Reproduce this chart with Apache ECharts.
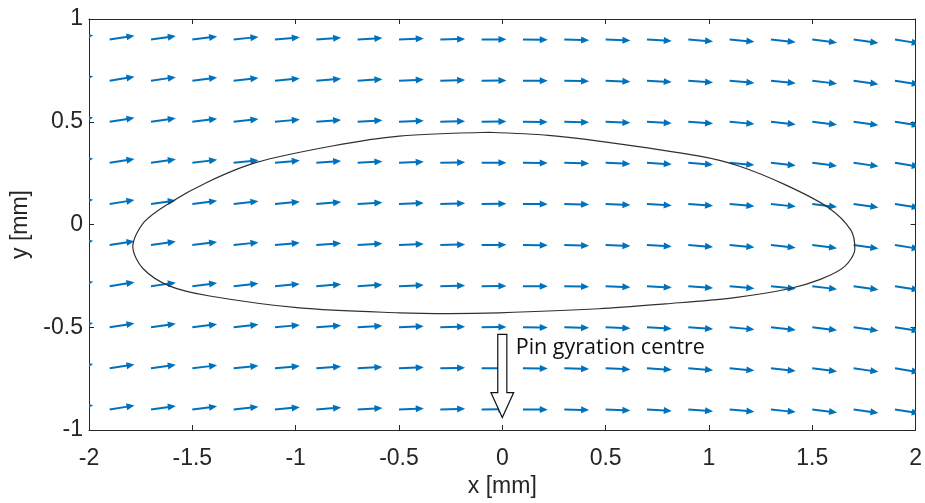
<!DOCTYPE html>
<html><head><meta charset="utf-8">
<script src="https://cdn.jsdelivr.net/npm/echarts@6/dist/echarts.min.js"></script>
<style>html,body{margin:0;padding:0;background:#fff}#c{width:925px;height:503px}</style>
</head><body><div id="c"></div>
<script>
// Quiver grid (arrow base points)
const colX = [-2.1,-1.9,-1.7,-1.5,-1.3,-1.1,-0.9,-0.7,-0.5,-0.3,-0.1,0.1,0.3,0.5,0.7,0.9,1.1,1.3,1.5,1.7,1.9];
const rowY = [-0.9,-0.7,-0.5,-0.3,-0.1,0.1,0.3,0.5,0.7,0.9];
// arrow components (estimated): horizontal length per row, vertical component per column
const rowDX = [0.12,0.12,0.12,0.12,0.12,0.12,0.12,0.12,0.12,0.12];
const colDY = [0.021,0.019,0.017,0.015,0.013,0.011,0.009,0.007,0.005,0.003,0.001,-0.001,-0.003,-0.005,-0.007,-0.009,-0.011,-0.013,-0.015,-0.017,-0.019];
// closed contour
const contourX = [-0.065,0.224,0.466,0.948,1.141,1.368,1.575,1.686,1.706,1.657,1.542,1.382,1.107,0.789,0.466,-0.017,-0.258,-0.499,-0.982,-1.416,-1.609,-1.739,-1.788,-1.735,-1.615,-1.425,-1.190,-0.823,-0.499,-0.065];
const contourY = [0.449,0.434,0.406,0.334,0.286,0.194,0.084,-0.026,-0.118,-0.204,-0.266,-0.314,-0.358,-0.386,-0.410,-0.430,-0.434,-0.430,-0.406,-0.348,-0.300,-0.214,-0.108,0.010,0.102,0.207,0.302,0.382,0.430,0.449];
// annotation
const annotText = 'Pin gyration centre';
const annotArrow = [0, -0.535, -0.818, -0.939, 0.022, 0.055]; // x, shaftTop, headBase, tip, shaftHalfW, headHalfW
const annotTextPos = [0.065, -0.598];
const xTickLabels = ['-2','-1.5','-1','-0.5','0','0.5','1','1.5','2'];
const yTickLabels = ['-1','-0.5','0','0.5','1'];

const quiverData = [];
rowY.forEach((y, i) => colX.forEach((x, j) => quiverData.push([x, y, rowDX[i], colDY[j]])));
const contourData = contourX.map((x, i) => [x, contourY[i]]);

const AX = '#262626';
const FONT = 'Liberation Sans';
const FS = 23;
const chart = echarts.init(document.getElementById('c'));
const axisCommon = {
  interval: 0.5,
  axisLine: {show: true, onZero: false, lineStyle: {color: AX, width: 1}},
  axisTick: {show: true, inside: true, length: 5, lineStyle: {color: AX}},
  splitLine: {show: false}
};
chart.setOption({
  animation: false,
  grid: {left: 89, right: 7, top: 19, bottom: 67, containLabel: false},
  xAxis: [
    Object.assign({}, axisCommon, {type: 'value', min: -2, max: 2, position: 'bottom',
      name: 'x [mm]', nameLocation: 'middle', nameGap: 45,
      nameTextStyle: {fontFamily: FONT, fontSize: FS, color: AX},
      axisLabel: {fontFamily: FONT, fontSize: FS, color: AX, margin: 17,
        formatter: v => xTickLabels[Math.round((v + 2) / 0.5)]}}),
    Object.assign({}, axisCommon, {type: 'value', min: -2, max: 2, position: 'top', axisLabel: {show: false}})
  ],
  yAxis: [
    Object.assign({}, axisCommon, {type: 'value', min: -1, max: 1, position: 'left',
      name: 'y [mm]', nameLocation: 'middle', nameGap: 55, nameRotate: 90,
      nameTextStyle: {fontFamily: FONT, fontSize: FS, color: AX},
      axisLabel: {fontFamily: FONT, fontSize: FS, color: AX, margin: 6,
        formatter: v => yTickLabels[Math.round((v + 1) / 0.5)]}}),
    Object.assign({}, axisCommon, {type: 'value', min: -1, max: 1, position: 'right', axisLabel: {show: false}})
  ],
  series: [
    {
      type: 'custom', clip: true, data: quiverData, z: 2,
      renderItem: function (params, api) {
        const x = api.value(0), y = api.value(1), dx = api.value(2), dy = api.value(3);
        const p0 = api.coord([x, y]), p1 = api.coord([x + dx, y + dy]);
        const ang = Math.atan2(p1[1] - p0[1], p1[0] - p0[0]);
        const hl = 8, hw = 3.5;
        const bx = p1[0] - hl * Math.cos(ang), by = p1[1] - hl * Math.sin(ang);
        const nx = -Math.sin(ang), ny = Math.cos(ang);
        const c = '#0072BD';
        return {type: 'group', children: [
          {type: 'line', shape: {x1: p0[0], y1: p0[1], x2: bx + Math.cos(ang), y2: by + Math.sin(ang)}, style: {stroke: c, lineWidth: 2}},
          {type: 'polygon', shape: {points: [p1, [bx + nx * hw, by + ny * hw], [bx - nx * hw, by - ny * hw]]}, style: {fill: c}}
        ]};
      }
    },
    {
      type: 'line', data: contourData, showSymbol: false, smooth: 0.3, z: 3,
      lineStyle: {color: '#303030', width: 1.2}, silent: true
    },
    {
      type: 'custom', data: [annotArrow], z: 5, clip: false,
      renderItem: function (params, api) {
        const x = api.value(0), st = api.value(1), hb = api.value(2), tp = api.value(3), sw = api.value(4), hw = api.value(5);
        const pts = [[x - sw, st], [x + sw, st], [x + sw, hb], [x + hw, hb], [x, tp], [x - hw, hb], [x - sw, hb]].map(p => api.coord(p));
        return {type: 'polygon', shape: {points: pts}, style: {fill: '#fff', stroke: '#111', lineWidth: 1.2}};
      }
    },
    {
      type: 'custom', data: [[annotTextPos[0], annotTextPos[1]]], z: 6, clip: false,
      renderItem: function (params, api) {
        const p = api.coord([api.value(0), api.value(1)]);
        return {type: 'text', x: p[0], y: p[1], style: {text: annotText, fontFamily: 'Open Sans', fontSize: 21.5, fill: '#111', align: 'left', verticalAlign: 'middle'}};
      }
    }
  ]
});
</script></body></html>
